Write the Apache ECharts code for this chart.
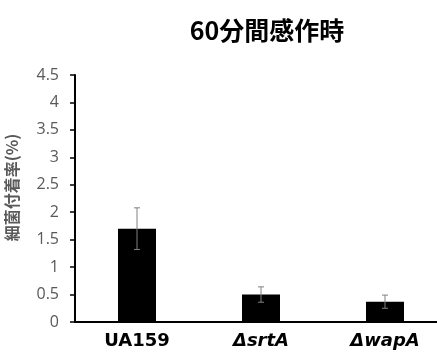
<!DOCTYPE html>
<html><head><meta charset="utf-8">
<script src="https://cdn.jsdelivr.net/npm/echarts@6/dist/echarts.min.js"></script>
<style>html,body{margin:0;padding:0;background:#fff}#c{width:437px;height:354px}</style>
</head><body><div id="c"></div>
<script>
var categories = ['UA159', 'ΔsrtA', 'ΔwapA'];
var values = [1.70, 0.50, 0.37];
var errors = [0.38, 0.14, 0.12];
var yTicks = [0, 0.5, 1, 1.5, 2, 2.5, 3, 3.5, 4, 4.5];

var chart = echarts.init(document.getElementById('c'));
var errData = values.map(function (v, i) { return [i, v - errors[i], v + errors[i]]; });
chart.setOption({
  animation: false,
  title: {
    text: '60分間感作時', left: 262, top: 13, textAlign: 'center',
    textStyle: { fontFamily: 'Noto Sans CJK JP', fontWeight: 'bold', fontSize: 25, color: '#000' }
  },
  grid: { left: 75, width: 372, top: 75, height: 247, containLabel: false, outerBoundsMode: 'none' },
  xAxis: {
    type: 'category', data: categories,
    axisLine: { lineStyle: { color: '#000', width: 2 } },
    axisTick: { show: false },
    axisLabel: {
      interval: 0, margin: 10, fontSize: 18, fontWeight: 'bold', color: '#000', fontFamily: 'DejaVu Sans',
      formatter: function (v) { return v === 'UA159' ? '{n|' + v + '}' : '{i|' + v + '}'; },
      rich: {
        n: { fontSize: 18, fontWeight: 'bold', color: '#000', fontFamily: 'DejaVu Sans' },
        i: { fontSize: 18, fontWeight: 'bold', fontStyle: 'italic', color: '#000', fontFamily: 'DejaVu Sans' }
      }
    }
  },
  yAxis: {
    type: 'value', min: yTicks[0], max: yTicks[yTicks.length - 1], interval: 0.5,
    name: '細菌付着率(%)', nameLocation: 'middle', nameGap: 55, nameRotate: 90,
    nameTextStyle: { fontFamily: 'Noto Sans CJK JP', fontWeight: 'bold', fontSize: 16, color: '#595959', padding: [0, 0, 0, 22] },
    axisLine: { show: true, lineStyle: { color: '#000', width: 2 } },
    axisTick: { show: true, length: 5, lineStyle: { color: '#000', width: 1.5 } },
    splitLine: { show: false },
    axisLabel: { fontSize: 16, color: '#595959', margin: 16, fontFamily: 'Open Sans' }
  },
  series: [
    { type: 'bar', data: values, barWidth: 38, itemStyle: { color: '#000' } },
    {
      type: 'custom', data: errData, z: 10,
      renderItem: function (params, api) {
        var x = api.value(0);
        var lo = api.coord([x, api.value(1)]);
        var hi = api.coord([x, api.value(2)]);
        var hw = 3;
        var st = { stroke: '#808080', lineWidth: 1 };
        return { type: 'group', children: [
          { type: 'line', shape: { x1: lo[0], y1: lo[1], x2: hi[0], y2: hi[1] }, style: st },
          { type: 'line', shape: { x1: hi[0] - hw, y1: hi[1], x2: hi[0] + hw, y2: hi[1] }, style: st },
          { type: 'line', shape: { x1: lo[0] - hw, y1: lo[1], x2: lo[0] + hw, y2: lo[1] }, style: st }
        ]};
      }
    }
  ]
});
</script></body></html>
